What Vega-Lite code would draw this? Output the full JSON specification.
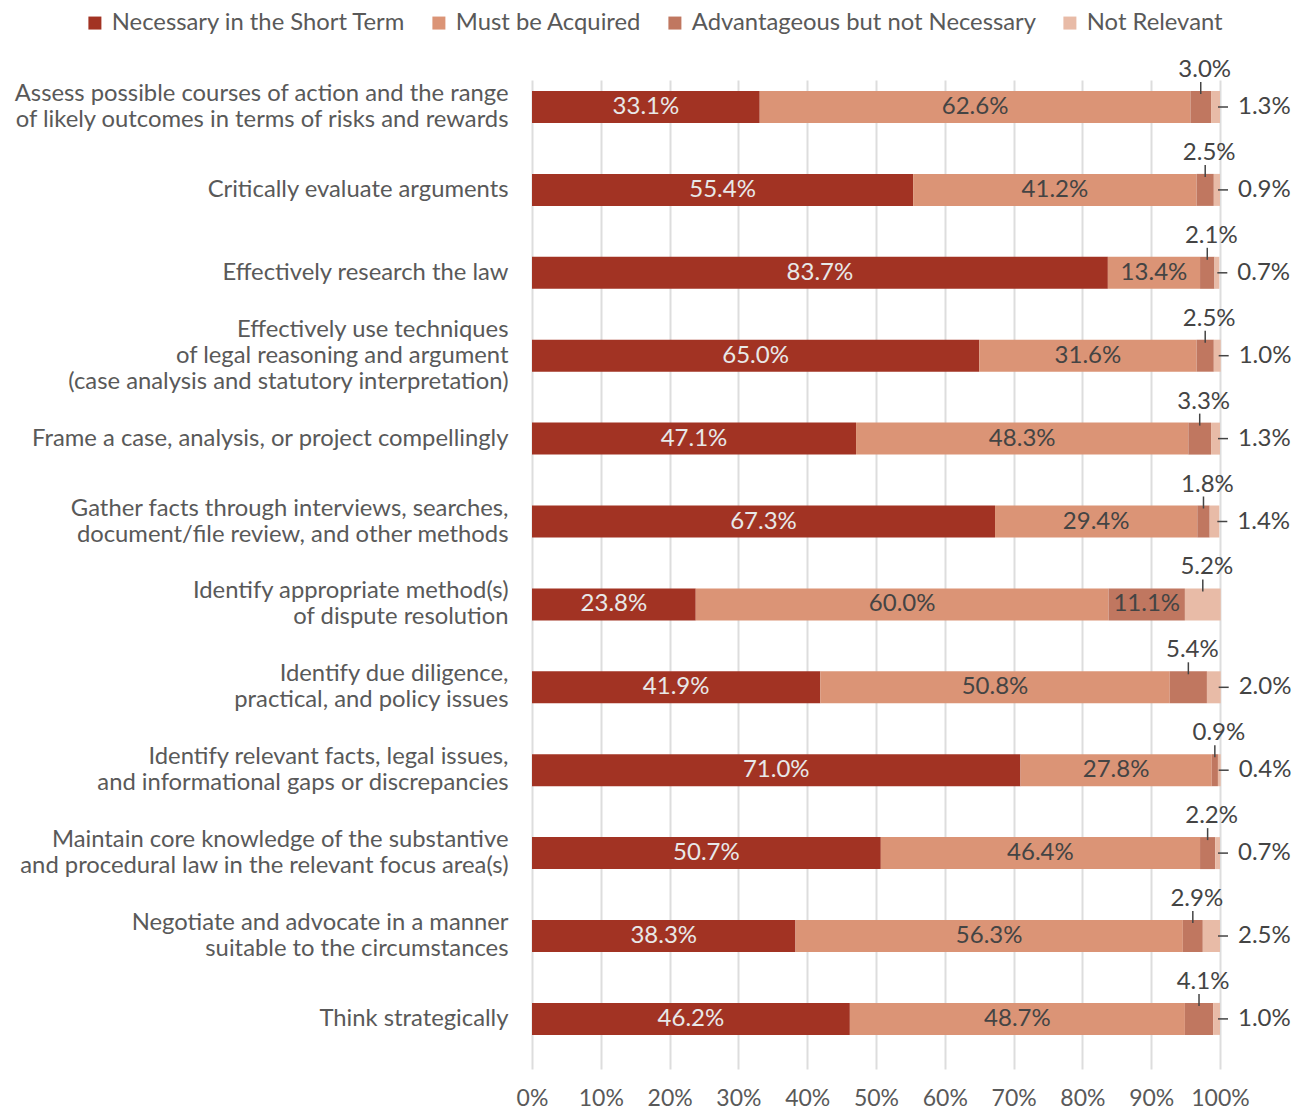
{
  "$schema": "https://vega.github.io/schema/vega-lite/v6.json",
  "autosize": {"type": "none"},
  "width": 688,
  "height": 989,
  "padding": {"left": 532, "top": 80, "right": 84, "bottom": 42},
  "background": "white",
  "config": {
    "view": {"stroke": null},
    "font": "Lato",
    "axis": {"labelFont": "Lato", "labelColor": "#595959", "labelFontSize": 22},
    "legend": {"labelFont": "Lato", "labelColor": "#595959", "labelFontSize": 22}
  },
  "data": {
    "values": [
      {"skill": "Assess possible courses of action and the range\nof likely outcomes in terms of risks and rewards", "segment": "Necessary in the Short Term", "ord": 1, "value": 0.331},
      {"skill": "Assess possible courses of action and the range\nof likely outcomes in terms of risks and rewards", "segment": "Must be Acquired", "ord": 2, "value": 0.626},
      {"skill": "Assess possible courses of action and the range\nof likely outcomes in terms of risks and rewards", "segment": "Advantageous but not Necessary", "ord": 3, "value": 0.030},
      {"skill": "Assess possible courses of action and the range\nof likely outcomes in terms of risks and rewards", "segment": "Not Relevant", "ord": 4, "value": 0.013},
      {"skill": "Critically evaluate arguments", "segment": "Necessary in the Short Term", "ord": 1, "value": 0.554},
      {"skill": "Critically evaluate arguments", "segment": "Must be Acquired", "ord": 2, "value": 0.412},
      {"skill": "Critically evaluate arguments", "segment": "Advantageous but not Necessary", "ord": 3, "value": 0.025},
      {"skill": "Critically evaluate arguments", "segment": "Not Relevant", "ord": 4, "value": 0.009},
      {"skill": "Effectively research the law", "segment": "Necessary in the Short Term", "ord": 1, "value": 0.837},
      {"skill": "Effectively research the law", "segment": "Must be Acquired", "ord": 2, "value": 0.134},
      {"skill": "Effectively research the law", "segment": "Advantageous but not Necessary", "ord": 3, "value": 0.021},
      {"skill": "Effectively research the law", "segment": "Not Relevant", "ord": 4, "value": 0.007},
      {"skill": "Effectively use techniques\nof legal reasoning and argument\n(case analysis and statutory interpretation)", "segment": "Necessary in the Short Term", "ord": 1, "value": 0.650},
      {"skill": "Effectively use techniques\nof legal reasoning and argument\n(case analysis and statutory interpretation)", "segment": "Must be Acquired", "ord": 2, "value": 0.316},
      {"skill": "Effectively use techniques\nof legal reasoning and argument\n(case analysis and statutory interpretation)", "segment": "Advantageous but not Necessary", "ord": 3, "value": 0.025},
      {"skill": "Effectively use techniques\nof legal reasoning and argument\n(case analysis and statutory interpretation)", "segment": "Not Relevant", "ord": 4, "value": 0.010},
      {"skill": "Frame a case, analysis, or project compellingly", "segment": "Necessary in the Short Term", "ord": 1, "value": 0.471},
      {"skill": "Frame a case, analysis, or project compellingly", "segment": "Must be Acquired", "ord": 2, "value": 0.483},
      {"skill": "Frame a case, analysis, or project compellingly", "segment": "Advantageous but not Necessary", "ord": 3, "value": 0.033},
      {"skill": "Frame a case, analysis, or project compellingly", "segment": "Not Relevant", "ord": 4, "value": 0.013},
      {"skill": "Gather facts through interviews, searches,\ndocument/file review, and other methods", "segment": "Necessary in the Short Term", "ord": 1, "value": 0.673},
      {"skill": "Gather facts through interviews, searches,\ndocument/file review, and other methods", "segment": "Must be Acquired", "ord": 2, "value": 0.294},
      {"skill": "Gather facts through interviews, searches,\ndocument/file review, and other methods", "segment": "Advantageous but not Necessary", "ord": 3, "value": 0.018},
      {"skill": "Gather facts through interviews, searches,\ndocument/file review, and other methods", "segment": "Not Relevant", "ord": 4, "value": 0.014},
      {"skill": "Identify appropriate method(s)\nof dispute resolution", "segment": "Necessary in the Short Term", "ord": 1, "value": 0.238},
      {"skill": "Identify appropriate method(s)\nof dispute resolution", "segment": "Must be Acquired", "ord": 2, "value": 0.600},
      {"skill": "Identify appropriate method(s)\nof dispute resolution", "segment": "Advantageous but not Necessary", "ord": 3, "value": 0.111},
      {"skill": "Identify appropriate method(s)\nof dispute resolution", "segment": "Not Relevant", "ord": 4, "value": 0.052},
      {"skill": "Identify due diligence,\npractical, and policy issues", "segment": "Necessary in the Short Term", "ord": 1, "value": 0.419},
      {"skill": "Identify due diligence,\npractical, and policy issues", "segment": "Must be Acquired", "ord": 2, "value": 0.508},
      {"skill": "Identify due diligence,\npractical, and policy issues", "segment": "Advantageous but not Necessary", "ord": 3, "value": 0.054},
      {"skill": "Identify due diligence,\npractical, and policy issues", "segment": "Not Relevant", "ord": 4, "value": 0.020},
      {"skill": "Identify relevant facts, legal issues,\nand informational gaps or discrepancies", "segment": "Necessary in the Short Term", "ord": 1, "value": 0.710},
      {"skill": "Identify relevant facts, legal issues,\nand informational gaps or discrepancies", "segment": "Must be Acquired", "ord": 2, "value": 0.278},
      {"skill": "Identify relevant facts, legal issues,\nand informational gaps or discrepancies", "segment": "Advantageous but not Necessary", "ord": 3, "value": 0.009},
      {"skill": "Identify relevant facts, legal issues,\nand informational gaps or discrepancies", "segment": "Not Relevant", "ord": 4, "value": 0.004},
      {"skill": "Maintain core knowledge of the substantive\nand procedural law in the relevant focus area(s)", "segment": "Necessary in the Short Term", "ord": 1, "value": 0.507},
      {"skill": "Maintain core knowledge of the substantive\nand procedural law in the relevant focus area(s)", "segment": "Must be Acquired", "ord": 2, "value": 0.464},
      {"skill": "Maintain core knowledge of the substantive\nand procedural law in the relevant focus area(s)", "segment": "Advantageous but not Necessary", "ord": 3, "value": 0.022},
      {"skill": "Maintain core knowledge of the substantive\nand procedural law in the relevant focus area(s)", "segment": "Not Relevant", "ord": 4, "value": 0.007},
      {"skill": "Negotiate and advocate in a manner\nsuitable to the circumstances", "segment": "Necessary in the Short Term", "ord": 1, "value": 0.383},
      {"skill": "Negotiate and advocate in a manner\nsuitable to the circumstances", "segment": "Must be Acquired", "ord": 2, "value": 0.563},
      {"skill": "Negotiate and advocate in a manner\nsuitable to the circumstances", "segment": "Advantageous but not Necessary", "ord": 3, "value": 0.029},
      {"skill": "Negotiate and advocate in a manner\nsuitable to the circumstances", "segment": "Not Relevant", "ord": 4, "value": 0.025},
      {"skill": "Think strategically", "segment": "Necessary in the Short Term", "ord": 1, "value": 0.462},
      {"skill": "Think strategically", "segment": "Must be Acquired", "ord": 2, "value": 0.487},
      {"skill": "Think strategically", "segment": "Advantageous but not Necessary", "ord": 3, "value": 0.041},
      {"skill": "Think strategically", "segment": "Not Relevant", "ord": 4, "value": 0.010}
    ]
  },
  "transform": [
    {"stack": "value", "groupby": ["skill"], "sort": [{"field": "ord", "order": "ascending"}], "as": ["x0", "x1"]}
  ],
  "encoding": {
    "y": {
      "field": "skill",
      "type": "nominal",
      "sort": [
        "Assess possible courses of action and the range\nof likely outcomes in terms of risks and rewards",
        "Critically evaluate arguments",
        "Effectively research the law",
        "Effectively use techniques\nof legal reasoning and argument\n(case analysis and statutory interpretation)",
        "Frame a case, analysis, or project compellingly",
        "Gather facts through interviews, searches,\ndocument/file review, and other methods",
        "Identify appropriate method(s)\nof dispute resolution",
        "Identify due diligence,\npractical, and policy issues",
        "Identify relevant facts, legal issues,\nand informational gaps or discrepancies",
        "Maintain core knowledge of the substantive\nand procedural law in the relevant focus area(s)",
        "Negotiate and advocate in a manner\nsuitable to the circumstances",
        "Think strategically"
      ],
      "scale": {"paddingInner": 0.614, "paddingOuter": 0.272, "align": 0.244},
      "axis": {
        "title": null,
        "domain": false,
        "ticks": false,
        "grid": false,
        "labelPadding": 24,
        "labelLimit": 0,
        "labelFontSize": 23.8,
        "labelLineHeight": 26,
        "labelExpr": "split(datum.label, '\\n')",
        "labelOffset": {
          "condition": [
            {"test": "length(split(datum.value, '\\n')) == 3", "value": -26},
            {"test": "length(split(datum.value, '\\n')) == 2", "value": -13}
          ],
          "value": 0
        }
      }
    }
  },
  "layer": [
    {
      "mark": {"type": "bar"},
      "encoding": {
        "x": {
          "field": "x0",
          "type": "quantitative",
          "scale": {"domain": [0, 1], "nice": false},
          "axis": {
            "title": null,
            "format": ".0%",
            "values": [0, 0.1, 0.2, 0.3, 0.4, 0.5, 0.6, 0.7, 0.8, 0.9, 1],
            "domain": false,
            "ticks": false,
            "grid": true,
            "gridColor": "#dddddd",
            "gridWidth": 2,
            "labelPadding": 18,
            "labelFontSize": 23,
            "labelFlush": false
          }
        },
        "x2": {"field": "x1"},
        "color": {
          "field": "segment",
          "type": "nominal",
          "scale": {
            "domain": ["Necessary in the Short Term", "Must be Acquired", "Advantageous but not Necessary", "Not Relevant"],
            "range": ["#A23323", "#DB9476", "#C07760", "#E8BBA7"]
          },
          "legend": {
            "title": null,
            "orient": "none",
            "legendX": -449,
            "legendY": -69,
            "direction": "horizontal",
            "symbolType": "square",
            "symbolSize": 169,
            "symbolStrokeWidth": 0,
            "labelOffset": 5,
            "columnPadding": 21,
            "labelFontSize": 23.8,
            "labelLimit": 0
          }
        }
      }
    },
    {
      "transform": [
        {"fold": ["x0", "x1"], "as": ["k", "pos"]},
        {"aggregate": [{"op": "mean", "field": "pos", "as": "mid"}], "groupby": ["skill", "segment", "value"]},
        {"filter": "datum.segment == 'Necessary in the Short Term' || datum.segment == 'Must be Acquired' || datum.value >= 0.08"}
      ],
      "mark": {"type": "text", "fontSize": 24, "baseline": "middle", "align": "center"},
      "encoding": {
        "x": {"field": "mid", "type": "quantitative"},
        "text": {"field": "value", "type": "quantitative", "format": ".1%"},
        "color": {
          "condition": {"test": "datum.segment == 'Necessary in the Short Term'", "value": "#e8e8e8"},
          "value": "#444444"
        }
      }
    },
    {
      "transform": [
        {"fold": ["x0", "x1"], "as": ["k", "pos"]},
        {"aggregate": [{"op": "mean", "field": "pos", "as": "mid"}], "groupby": ["skill", "segment", "value"]},
        {"filter": "(datum.segment == 'Advantageous but not Necessary' && datum.value < 0.08) || (datum.segment == 'Not Relevant' && datum.value >= 0.05)"}
      ],
      "mark": {"type": "text", "fontSize": 24, "baseline": "middle", "align": "center", "dy": -37, "dx": 4, "color": "#444444"},
      "encoding": {
        "x": {"field": "mid", "type": "quantitative"},
        "text": {"field": "value", "type": "quantitative", "format": ".1%"}
      }
    },
    {
      "transform": [
        {"fold": ["x0", "x1"], "as": ["k", "pos"]},
        {"aggregate": [{"op": "mean", "field": "pos", "as": "mid"}], "groupby": ["skill", "segment", "value"]},
        {"filter": "(datum.segment == 'Advantageous but not Necessary' && datum.value < 0.08) || (datum.segment == 'Not Relevant' && datum.value >= 0.05)"}
      ],
      "mark": {"type": "tick", "orient": "vertical", "size": 12, "thickness": 1.5, "yOffset": -19, "color": "#444444", "opacity": 1},
      "encoding": {
        "x": {"field": "mid", "type": "quantitative"}
      }
    },
    {
      "transform": [
        {"filter": "datum.segment == 'Not Relevant' && datum.value < 0.05"}
      ],
      "mark": {"type": "tick", "orient": "horizontal", "size": 10, "thickness": 1.5, "xOffset": 3, "color": "#444444", "opacity": 1},
      "encoding": {
        "x": {"field": "x1", "type": "quantitative"}
      }
    },
    {
      "transform": [
        {"filter": "datum.segment == 'Not Relevant' && datum.value < 0.05"}
      ],
      "mark": {"type": "text", "fontSize": 24, "baseline": "middle", "align": "left", "dx": 18, "color": "#444444"},
      "encoding": {
        "x": {"field": "x1", "type": "quantitative"},
        "text": {"field": "value", "type": "quantitative", "format": ".1%"}
      }
    }
  ]
}
